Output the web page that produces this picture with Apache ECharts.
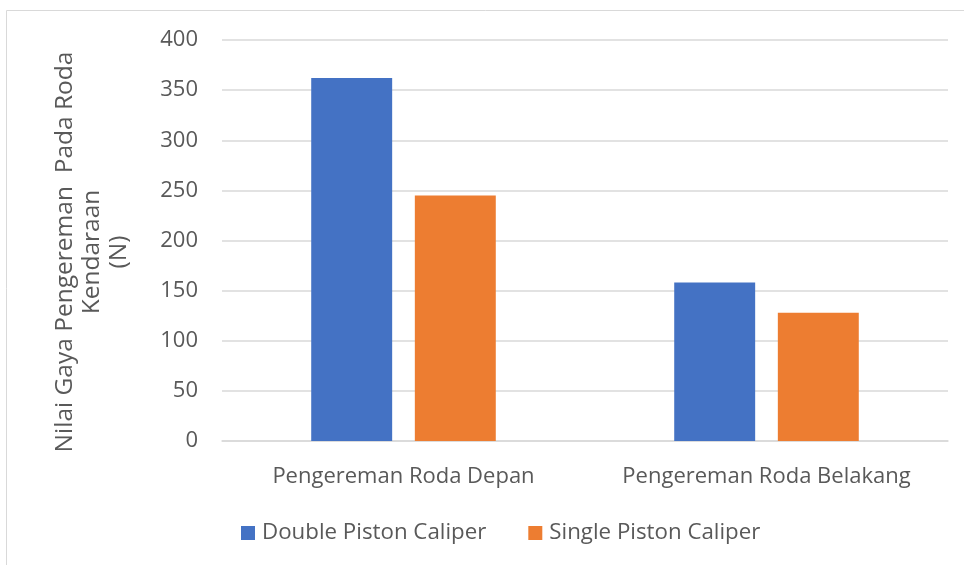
<!DOCTYPE html>
<html>
<head>
<meta charset="utf-8">
<script src="https://cdn.jsdelivr.net/npm/echarts@6/dist/echarts.min.js"></script>
<style>
  html, body { margin: 0; padding: 0; background: #fff; }
  #chart { width: 964px; height: 565px; }
</style>
</head>
<body>
<div id="chart"></div>
<script>
// Braking force per wheel position, by caliper type (N)
const categories = ['Pengereman Roda Depan', 'Pengereman Roda Belakang'];
const doublePiston = [362, 158];
const singlePiston = [245, 128];
const seriesNames = ['Double Piston Caliper', 'Single Piston Caliper'];
const yTitle = 'Nilai Gaya Pengereman  Pada Roda\nKendaraan\n(N)';

const FONT = '"Open Sans", "Noto Sans", sans-serif';
const TEXT = '#595959';
const GRID = '#d9d9d9';

const chart = echarts.init(document.getElementById('chart'), null, { renderer: 'canvas' });
chart.setOption({
  animation: false,
  textStyle: { fontFamily: FONT, color: TEXT },
  color: ['#4472C4', '#ED7D31'],
  grid: { left: 222, right: 16, top: 40, bottom: 124, containLabel: false },
  graphic: [
    {
      type: 'rect',
      shape: { x: 6.5, y: 10.5, width: 1000, height: 600 },
      style: { fill: 'none', stroke: GRID, lineWidth: 1 },
      silent: true
    },
    {
      type: 'text',
      x: 92, y: 252,
      rotation: Math.PI / 2,
      style: {
        text: yTitle,
        font: '24.5px ' + FONT,
        fill: TEXT,
        textAlign: 'center',
        textVerticalAlign: 'middle',
        lineHeight: 27
      }
    }
  ],
  legend: {
    left: 236, top: 517,
    itemWidth: 14, itemHeight: 14,
    itemGap: 42,
    icon: 'rect',
    textStyle: { fontFamily: FONT, fontSize: 22.3, color: TEXT, padding: [0, 0, 0, 2] },
    data: seriesNames
  },
  xAxis: {
    type: 'category',
    data: categories,
    axisLine: { lineStyle: { color: GRID, width: 1.5 } },
    axisTick: { show: false },
    axisLabel: { interval: 0, fontSize: 22, color: TEXT, margin: 25, fontFamily: FONT }
  },
  yAxis: {
    type: 'value',
    min: 0, max: 400, interval: 50,
    axisLine: { show: false },
    axisTick: { show: false },
    splitLine: { lineStyle: { color: GRID, width: 1.5 } },
    axisLabel: { fontSize: 22, color: TEXT, margin: 24, fontFamily: FONT }
  },
  series: [
    { name: seriesNames[0], type: 'bar', data: doublePiston, barWidth: '22.3%', barGap: '28%' },
    { name: seriesNames[1], type: 'bar', data: singlePiston, barWidth: '22.3%', barGap: '28%' }
  ]
});
</script>
</body>
</html>
